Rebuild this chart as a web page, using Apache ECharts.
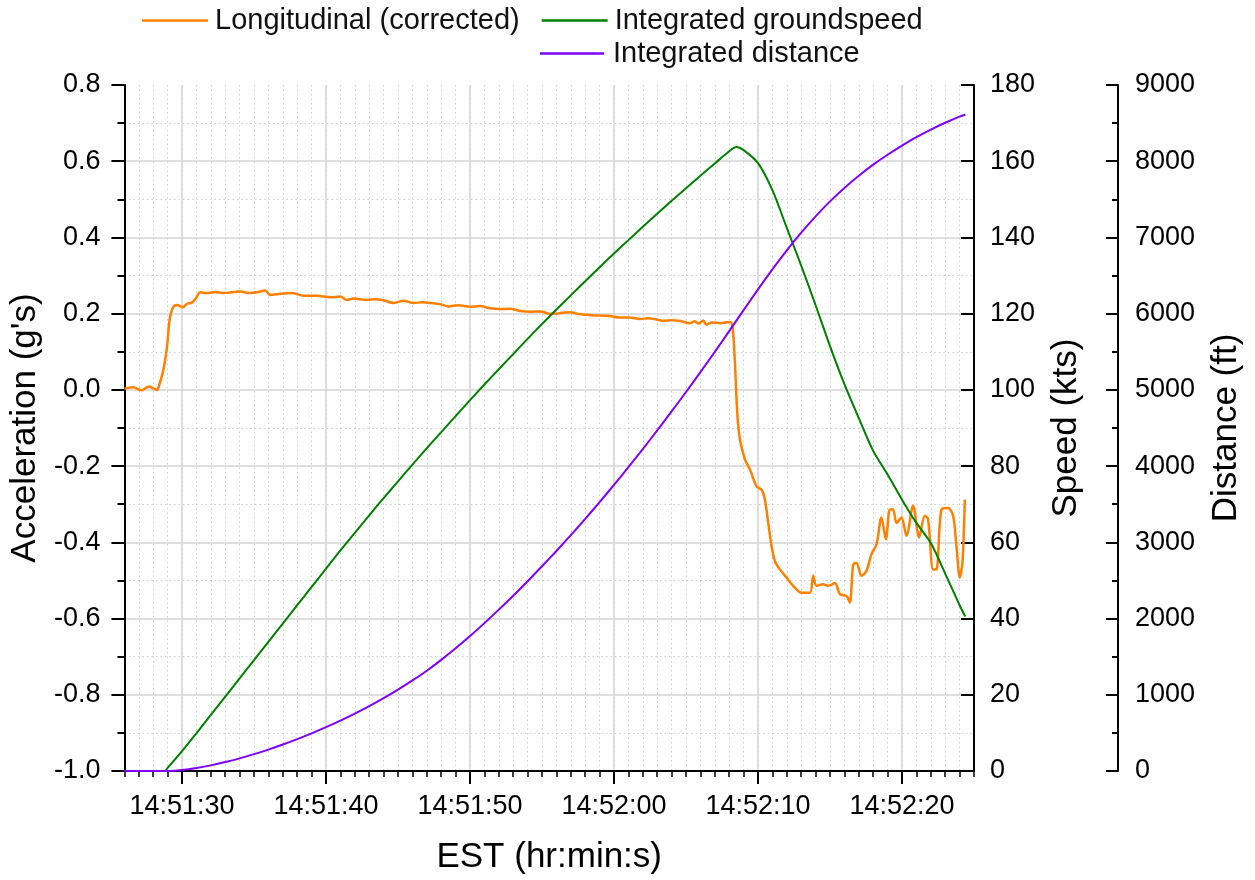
<!DOCTYPE html>
<html>
<head>
<meta charset="utf-8">
<title>Takeoff and rejected-takeoff acceleration, groundspeed and distance</title>
<script src="https://cdn.jsdelivr.net/npm/echarts@6/dist/echarts.min.js"></script>
<style>
  html, body { margin: 0; padding: 0; background: #ffffff; }
  #chart { width: 1255px; height: 880px; }
</style>
</head>
<body>
<div id="chart"></div>
<script>
// Time is given in seconds after 14:51:00 EST.
const xTickSeconds = [30, 40, 50, 60, 70, 80];
const xTickLabels = ['14:51:30', '14:51:40', '14:51:50', '14:52:00', '14:52:10', '14:52:20'];

// Longitudinal acceleration (corrected), g's
const accTime = [
  26.0, 26.6, 27.2, 27.7, 28.0, 28.27, 28.45, 28.73, 28.96, 29.14, 29.38, 29.66, 30.07, 30.35, 30.69,
  30.95, 31.27, 31.74, 32.31, 32.89, 33.45, 34.05, 34.63, 35.21, 35.78, 36.13, 36.83, 37.64, 38.44,
  39.37, 40.3, 40.99, 41.45, 41.91, 42.84, 43.4, 44.0, 44.69, 45.38, 46.08, 46.7, 47.24, 47.93, 48.5,
  49.2, 50.0, 50.7, 51.4, 52.1, 52.8, 53.5, 54.2, 54.9, 55.5, 56.0, 56.5, 57.0, 57.5, 58.2, 59.0, 59.7,
  60.4, 61.1, 61.8, 62.4, 62.8, 63.4, 64.0, 64.58, 65.28, 65.6, 65.86, 66.2, 66.4, 66.8, 67.36, 68.06,
  68.24, 68.4, 68.56, 68.75, 69.1, 69.44, 69.9, 70.25, 70.48, 70.71, 70.94, 71.18, 71.52, 71.99, 72.56,
  73.03, 73.61, 73.83, 74.07, 74.53, 74.88, 75.34, 75.69, 76.15, 76.38, 76.61, 76.84, 77.19, 77.53,
  77.88, 78.23, 78.57, 78.88, 79.16, 79.38, 79.62, 79.96, 80.31, 80.77, 81.19, 81.58, 81.81, 82.16,
  82.39, 82.74, 83.2, 83.55, 83.78, 84.01, 84.2, 84.36
];
const accValues = [
  0.003, 0.007, -0.001, 0.009, 0.004, 0.0, 0.017, 0.057, 0.114, 0.184, 0.217, 0.223, 0.217, 0.226, 0.229,
  0.240, 0.256, 0.254, 0.257, 0.254, 0.256, 0.258, 0.254, 0.256, 0.261, 0.249, 0.252, 0.254, 0.247,
  0.247, 0.243, 0.245, 0.236, 0.240, 0.236, 0.238, 0.235, 0.228, 0.234, 0.228, 0.230, 0.228, 0.225, 0.219,
  0.222, 0.218, 0.220, 0.214, 0.212, 0.213, 0.207, 0.205, 0.206, 0.200, 0.200, 0.203, 0.204, 0.199, 0.197, 0.195, 0.194,
  0.190, 0.190, 0.186, 0.188, 0.186, 0.181, 0.183, 0.181, 0.175, 0.180, 0.174, 0.182, 0.171, 0.177, 0.175, 0.178,
  0.162, 0.070, -0.061, -0.131, -0.183, -0.209, -0.253, -0.262, -0.288, -0.349, -0.410, -0.450, -0.471, -0.493, -0.519,
  -0.532, -0.532, -0.488, -0.514, -0.510, -0.514, -0.507, -0.536, -0.541, -0.558, -0.458, -0.454, -0.488, -0.475,
  -0.431, -0.405, -0.335, -0.392, -0.314, -0.314, -0.349, -0.335, -0.383, -0.304, -0.387, -0.330, -0.339, -0.471,
  -0.471, -0.314, -0.310, -0.330, -0.409, -0.492, -0.453, -0.288
];

// Integrated groundspeed, kts
const speedTime = [
  26, 27, 28, 28.8, 29, 30, 31, 32, 33, 34, 35, 36, 37, 38, 39, 40, 41, 42, 43, 44, 45, 46, 47, 48, 49,
  50, 51, 52, 53, 54, 55, 56, 57, 58, 59, 60, 61, 62, 63, 64, 65, 66, 67, 68, 68.5, 69, 70, 71, 72, 73,
  74, 75, 76, 77, 78, 79, 80, 81, 82, 83, 84, 84.4
];
const speedValues = [
  0, 0, 0, 0, 0.8, 5.2, 9.9, 14.7, 19.5, 24.3, 29.1, 33.9, 38.7, 43.5, 48.3, 53.1, 57.9, 62.5, 67.1, 71.6, 76.0, 80.4, 84.7, 88.9, 93.1,
  97.3, 101.4, 105.4, 109.4, 113.4, 117.3, 121.1, 124.8, 128.5, 132.2, 135.8, 139.3, 142.8, 146.2, 149.6, 152.9, 156.2, 159.4, 162.6, 163.7, 162.9, 159.5, 152.4, 142.5, 132.6,
  122.2, 111.5, 101.5, 92.6, 84.0, 77.8, 71.2, 65.1, 59.8, 51.8, 43.5, 40.5
];

// Integrated distance, ft
const distTime = [
  26, 27, 28, 29, 30, 31, 32, 33, 34, 35, 36, 37, 38, 39, 40, 41, 42, 43, 44, 45, 46, 47, 48, 49, 50,
  51, 52, 53, 54, 55, 56, 57, 58, 59, 60, 61, 62, 63, 64, 65, 66, 67, 68, 69, 70, 71, 72, 73, 74, 75,
  76, 77, 78, 79, 80, 81, 82, 83, 84, 84.4
];
const distValues = [
  0, 0, 0, 0, 12, 38, 74, 117, 166, 221, 281, 347, 418, 494, 575, 661, 753, 851, 956, 1068, 1188, 1316, 1458, 1610, 1770,
  1940, 2117, 2300, 2490, 2686, 2887, 3094, 3308, 3528, 3754, 3986, 4224, 4468, 4717, 4972, 5233, 5499, 5771, 6046, 6318, 6581, 6830, 7062, 7277, 7473,
  7650, 7810, 7955, 8085, 8205, 8315, 8415, 8505, 8585, 8610
];

const seriesNames = ['Longitudinal (corrected)', 'Integrated groundspeed', 'Integrated distance'];
const seriesColors = ['#FF8000', '#008000', '#7F00FF'];

const FONT = "'Liberation Sans', Arial, Helvetica, sans-serif";
const pairs = (xs, ys) => xs.map((x, i) => [x, ys[i]]);

const majorGrid = { show: true, lineStyle: { color: '#d4d4d4', width: 1.5, type: 'solid' } };
const minorGrid = { show: true, lineStyle: { color: '#cfcfcf', width: 1, type: [1.5, 3] } };
const black = '#000000';

const chart = echarts.init(document.getElementById('chart'), null, { renderer: 'canvas' });

chart.setOption({
  animation: false,
  backgroundColor: '#ffffff',
  textStyle: { fontFamily: FONT },
  grid: { left: 124, right: 281, top: 85, bottom: 108, containLabel: false },
  legend: [
    {
      data: [seriesNames[0], seriesNames[1]],
      left: 142, top: 6, padding: 0,
      icon: 'rect', itemWidth: 66, itemHeight: 2.5, itemGap: 22,
      textStyle: { fontSize: 29, color: '#111', fontFamily: FONT, padding: [0, 0, 0, 2] }
    },
    {
      data: [seriesNames[2]],
      left: 540, top: 39, padding: 0,
      icon: 'rect', itemWidth: 64, itemHeight: 2.5,
      textStyle: { fontSize: 29, color: '#111', fontFamily: FONT, padding: [0, 0, 0, 4] }
    }
  ],
  xAxis: [
    {
      // one-second minor ticks and dotted grid
      type: 'value', min: 26, max: 85, interval: 1, position: 'bottom',
      axisLine: { show: true, onZero: false, lineStyle: { color: black, width: 2 } },
      axisTick: { show: true, length: 6, lineStyle: { color: black, width: 1.5 } },
      axisLabel: { show: false },
      splitLine: minorGrid
    },
    {
      // labelled ten-second ticks and solid grid
      type: 'value', min: 26, max: 85, position: 'bottom',
      axisLine: { show: false, onZero: false },
      axisTick: { show: true, length: 13, customValues: xTickSeconds, lineStyle: { color: black, width: 2 } },
      axisLabel: {
        show: true, customValues: xTickSeconds, margin: 22, fontSize: 27, color: black, fontFamily: FONT,
        formatter: v => xTickLabels[xTickSeconds.indexOf(Math.round(v))] || ''
      },
      splitLine: majorGrid,
      name: 'EST (hr:min:s)', nameLocation: 'middle', nameGap: 69,
      nameTextStyle: { fontSize: 35, color: black, fontFamily: FONT }
    }
  ],
  yAxis: [
    {
      type: 'value', min: -1.0, max: 0.8, interval: 0.2, position: 'left',
      axisLine: { show: true, onZero: false, lineStyle: { color: black, width: 2 } },
      axisTick: { show: true, length: 13, lineStyle: { color: black, width: 2 } },
      minorTick: { show: true, splitNumber: 2, length: 7, lineStyle: { color: black, width: 2 } },
      axisLabel: { margin: 24, fontSize: 27, color: black, fontFamily: FONT, formatter: v => v.toFixed(1) },
      splitLine: Object.assign({ showMaxLine: false }, majorGrid),
      minorSplitLine: minorGrid,
      name: "Acceleration (g's)", nameLocation: 'middle', nameGap: 78, nameRotate: 90,
      nameTextStyle: { fontSize: 35, color: black, fontFamily: FONT }
    },
    {
      type: 'value', min: 0, max: 180, interval: 20, position: 'right',
      axisLine: { show: true, onZero: false, lineStyle: { color: black, width: 2 } },
      axisTick: { show: true, inside: true, length: 13, lineStyle: { color: black, width: 2 } },
      axisLabel: { margin: 16, fontSize: 27, color: black, fontFamily: FONT, formatter: v => String(v) },
      splitLine: { show: false },
      name: 'Speed (kts)', nameLocation: 'middle', nameGap: 75, nameRotate: 90,
      nameTextStyle: { fontSize: 35, color: black, fontFamily: FONT }
    },
    {
      type: 'value', min: 0, max: 9000, interval: 1000, position: 'right', offset: 144,
      axisLine: { show: true, onZero: false, lineStyle: { color: black, width: 2 } },
      axisTick: { show: true, inside: true, length: 12, lineStyle: { color: black, width: 2 } },
      minorTick: { show: true, splitNumber: 2, length: 6, lineStyle: { color: black, width: 2 } },
      axisLabel: { margin: 17, fontSize: 27, color: black, fontFamily: FONT, formatter: v => String(v) },
      splitLine: { show: false },
      name: 'Distance (ft)', nameLocation: 'middle', nameGap: 91, nameRotate: 90,
      nameTextStyle: { fontSize: 35, color: black, fontFamily: FONT }
    }
  ],
  series: [
    {
      name: seriesNames[0], type: 'line', xAxisIndex: 0, yAxisIndex: 0,
      data: pairs(accTime, accValues), showSymbol: false, symbol: 'none', smooth: 0.3,
      color: seriesColors[0], lineStyle: { color: seriesColors[0], width: 2.5 }, z: 3
    },
    {
      name: seriesNames[1], type: 'line', xAxisIndex: 0, yAxisIndex: 1,
      data: pairs(speedTime, speedValues), showSymbol: false, symbol: 'none', smooth: 0.3,
      color: seriesColors[1], lineStyle: { color: seriesColors[1], width: 2 }, z: 4
    },
    {
      name: seriesNames[2], type: 'line', xAxisIndex: 0, yAxisIndex: 2,
      data: pairs(distTime, distValues), showSymbol: false, symbol: 'none', smooth: 0.3,
      color: seriesColors[2], lineStyle: { color: seriesColors[2], width: 2 }, z: 5
    }
  ]
});
</script>
</body>
</html>
